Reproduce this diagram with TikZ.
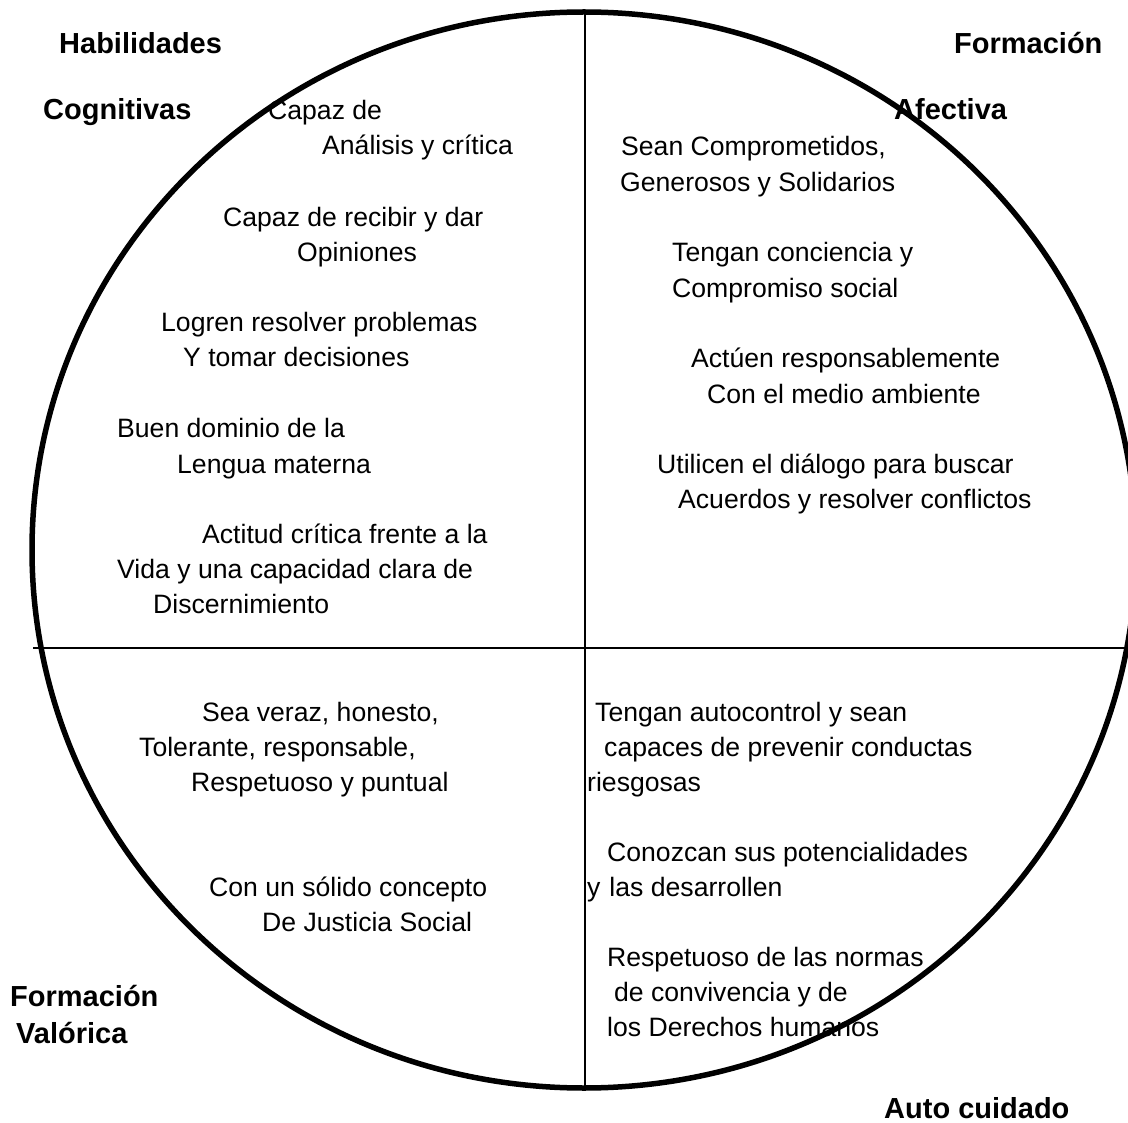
\documentclass[tikz,border=0pt]{standalone}
\usepackage{fontspec}
\setmainfont{Liberation Sans}
\begin{document}
\begin{tikzpicture}[x=1pt,y=-1pt,
  body/.style={anchor=base west, inner sep=0pt, font=\fontsize{26.6}{32}\selectfont},
  head/.style={anchor=base west, inner sep=0pt, font=\fontsize{29}{34}\selectfont\bfseries},
  rim/.style={line width=5.5pt},
  axisline/.style={line width=2pt}]
\useasboundingbox (0,0) rectangle (1128,1123);
\clip (0,0) rectangle (1128,1123);
\fill[white] (0,0) rectangle (1128,1123);
% headings
\node[head] (h1) at (59,54) {Habilidades};
\node[head] (h2) at (43,120) {Cognitivas};
\node[head] (h3) at (954,54) {Formación};
\node[head] (h4) at (894,120) {Afectiva};
\node[head] (h5) at (10,1006) {Formación};
\node[head] (h6) at (16,1043) {Valórica};
\node[head] (h7) at (884,1118) {Auto cuidado};
% upper left
\node[body] (a1) at (268,120) {Capaz de};
\node[body] (a2) at (322,155) {Análisis y crítica};
\node[body] (a3) at (223,227) {Capaz de recibir y dar};
\node[body] (a4) at (297,262) {Opiniones};
\node[body] (a5) at (161,332) {Logren resolver problemas};
\node[body] (a6) at (183,367) {Y tomar decisiones};
\node[body] (a7) at (117,438) {Buen dominio de la};
\node[body] (a8) at (177,473) {Lengua materna};
\node[body] (a9) at (202,543) {Actitud crítica frente a la};
\node[body] (a10) at (117,578) {Vida y una capacidad clara de};
\node[body] (a11) at (153,613) {Discernimiento};
% upper right
\node[body] (b1) at (621,156) {Sean Comprometidos,};
\node[body] (b2) at (620,192) {Generosos y Solidarios};
\node[body] (b3) at (672,262) {Tengan conciencia y};
\node[body] (b4) at (672,298) {Compromiso social};
\node[body] (b5) at (691,368) {Actúen responsablemente};
\node[body] (b6) at (707,403) {Con el medio ambiente};
\node[body] (b7) at (657,473) {Utilicen el diálogo para buscar};
\node[body] (b8) at (678,508) {Acuerdos y resolver conflictos};
% lower left
\node[body] (c1) at (202,721) {Sea veraz, honesto,};
\node[body] (c2) at (139,756) {Tolerante, responsable,};
\node[body] (c3) at (191,791) {Respetuoso y puntual};
\node[body] (c4) at (209,896) {Con un sólido concepto};
\node[body] (c5) at (262,931) {De Justicia Social};
% lower right
\node[body] (d1) at (595,721) {Tengan autocontrol y sean};
\node[body] (d2) at (604,756) {capaces de prevenir conductas};
\node[body] (d3) at (587,791) {riesgosas};
\node[body] (d4) at (607,861) {Conozcan sus potencialidades};
\node[body] (d5) at (587,896) {y\hspace{9pt}las desarrollen};
\node[body] (d6) at (607,966) {Respetuoso de las normas};
\node[body] (d7) at (614,1001) {de convivencia y de};
\node[body] (d8) at (607,1036) {los Derechos humanos};
% axes and rim
\coordinate (top) at (585,12);
\coordinate (bot) at (585,1088);
\coordinate (lft) at (33,648);
\coordinate (rgt) at (1130,648);
\coordinate (ctr) at (584,550);
\draw[axisline] (top) -- (bot);
\draw[axisline] (lft) -- (rgt);
\draw[rim] (ctr) ellipse [x radius=552pt, y radius=538pt];
\end{tikzpicture}
\end{document}
